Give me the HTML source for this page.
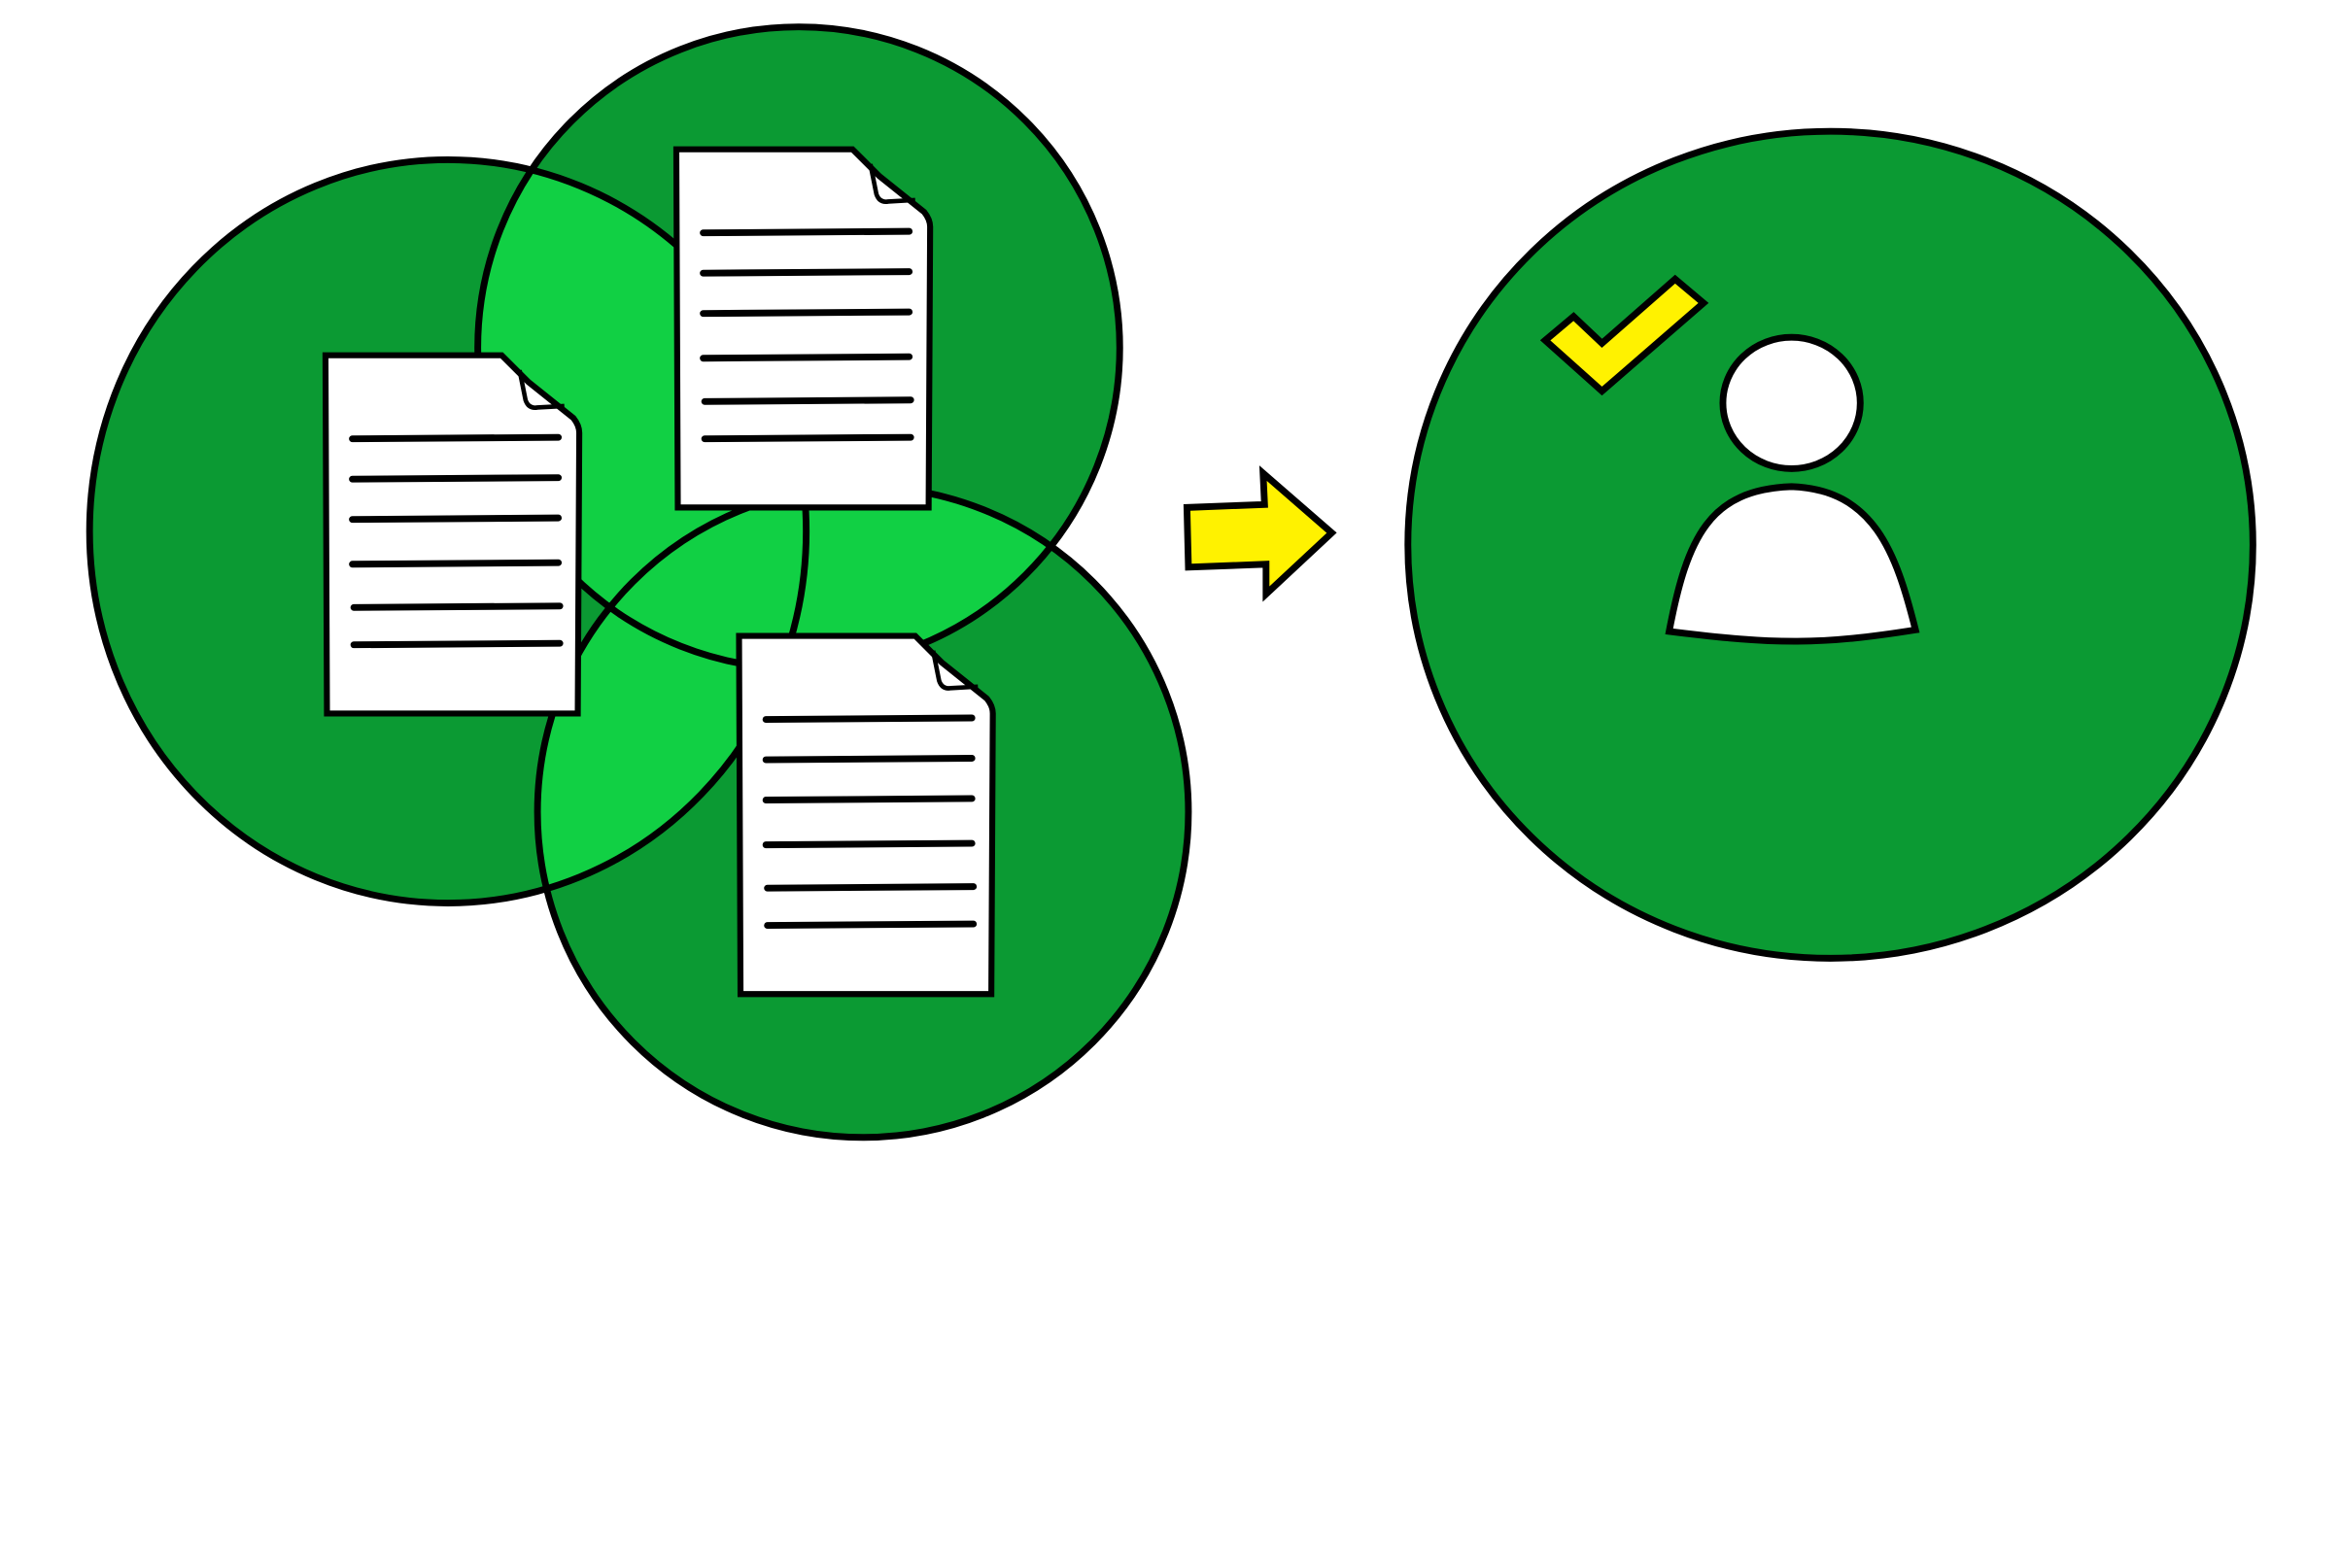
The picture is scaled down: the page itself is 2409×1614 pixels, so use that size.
<!DOCTYPE html>
<html><head><meta charset="utf-8"><style>html,body{margin:0;padding:0;background:#fff}svg{display:block}</style></head>
<body>
<svg width="2409" height="1614" viewBox="0 0 1568 1050.5" xmlns="http://www.w3.org/2000/svg" preserveAspectRatio="none">
<defs>
<clipPath id="cL"><ellipse cx="300" cy="356" rx="240" ry="249"/></clipPath>
<clipPath id="cT"><circle cx="535" cy="233" r="215"/></clipPath>
<g id="doc">
<path d="M0,0 H118 L136,18 L166,42 Q170,47 170,52 L169,240 H1 Z" fill="#fff" stroke="#000" stroke-width="4"/>
<path d="M130,10 L134,30 Q136,36 142,35 L160,34" fill="none" stroke="#000" stroke-width="3"/>
<g stroke="#000" stroke-width="4.5" stroke-linecap="round">
<line x1="18" y1="56" x2="156" y2="55"/>
<line x1="18" y1="83" x2="156" y2="82"/>
<line x1="18" y1="110" x2="156" y2="109"/>
<line x1="18" y1="140" x2="156" y2="139"/>
<line x1="19" y1="169" x2="157" y2="168"/>
<line x1="19" y1="194" x2="157" y2="193"/>
</g>
</g>
</defs>
<g fill="#0b9a33">
<ellipse cx="300" cy="356" rx="240" ry="249"/>
<circle cx="535" cy="233" r="215"/>
<circle cx="578" cy="544" r="218"/>
</g>
<g fill="#11d044">
<g clip-path="url(#cL)"><circle cx="535" cy="233" r="215"/><circle cx="578" cy="544" r="218"/></g>
<g clip-path="url(#cT)"><circle cx="578" cy="544" r="218"/></g>
</g>
<g fill="none" stroke="#000" stroke-width="4.5">
<ellipse cx="300" cy="356" rx="240" ry="249"/>
<circle cx="535" cy="233" r="215"/>
<circle cx="578" cy="544" r="218"/>
</g>
<use href="#doc" x="218" y="238"/>
<use href="#doc" x="453" y="100"/>
<use href="#doc" x="495" y="426"/>
<polygon points="795,340 847,338 846,317 892,357 848,398 848,378 796,380" fill="#fff200" stroke="#000" stroke-width="4.5"/>
<ellipse cx="1226" cy="365" rx="283" ry="277" fill="#0b9a33" stroke="#000" stroke-width="4.5"/>
<polygon points="1035,228 1054,212 1073,230 1122,187 1141,203 1073,262" fill="#fff200" stroke="#000" stroke-width="4.5"/>
<ellipse cx="1200" cy="270" rx="46" ry="44" fill="#fff" stroke="#000" stroke-width="4.5"/>
<path d="M1118,423 C1130,360 1145,328 1200,326 C1255,328 1270,370 1283,422 C1220,432 1190,432 1118,423 Z" fill="#fff" stroke="#000" stroke-width="4.5"/>
</svg>
</body></html>
